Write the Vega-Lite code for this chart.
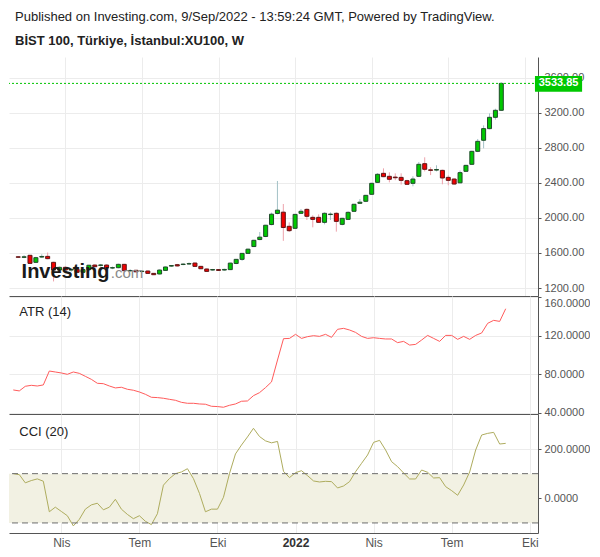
{
  "$schema": "https://vega.github.io/schema/vega-lite/v6.json",
  "background": "white",
  "padding": {"left": 8, "top": 11, "right": 0, "bottom": 0},
  "title": {
    "text": "Published on Investing.com, 9/Sep/2022 - 13:59:24 GMT, Powered by TradingView.",
    "subtitle": "BİST 100, Türkiye, İstanbul:XU100, W",
    "anchor": "start",
    "frame": "group",
    "dx": 6,
    "offset": 9,
    "font": "Liberation Sans",
    "fontSize": 13,
    "fontWeight": "normal",
    "color": "#222222",
    "subtitleFont": "Liberation Sans",
    "subtitleFontSize": 13,
    "subtitleFontWeight": "bold",
    "subtitleColor": "#222222",
    "subtitlePadding": 11
  },
  "datasets": {
    "weeks": [
      {"d": "2021-02-08", "o": 1556, "h": 1562, "l": 1545, "c": 1551, "atr": 63.8, "cci": 100},
      {"d": "2021-02-15", "o": 1550, "h": 1575, "l": 1540, "c": 1556, "atr": 62.8, "cci": 96},
      {"d": "2021-02-22", "o": 1573, "h": 1578, "l": 1474, "c": 1481, "atr": 67.6, "cci": 62.7},
      {"d": "2021-03-01", "o": 1493, "h": 1556, "l": 1486, "c": 1546, "atr": 68.6, "cci": 72},
      {"d": "2021-03-08", "o": 1553, "h": 1585, "l": 1545, "c": 1560, "atr": 67.9, "cci": 78.7},
      {"d": "2021-03-15", "o": 1561, "h": 1605, "l": 1528, "c": 1535, "atr": 69.0, "cci": 69.3},
      {"d": "2021-03-22", "o": 1493, "h": 1500, "l": 1275, "c": 1405, "atr": 83.4, "cci": -54.7},
      {"d": "2021-03-29", "o": 1405, "h": 1445, "l": 1380, "c": 1436, "atr": 82.4, "cci": -36},
      {"d": "2021-04-05", "o": 1436, "h": 1450, "l": 1400, "c": 1405, "atr": 81.4, "cci": -53.3},
      {"d": "2021-04-12", "o": 1405, "h": 1425, "l": 1385, "c": 1413, "atr": 80.0, "cci": -70.7},
      {"d": "2021-04-19", "o": 1413, "h": 1420, "l": 1370, "c": 1379, "atr": 82.4, "cci": -112},
      {"d": "2021-04-26", "o": 1379, "h": 1420, "l": 1370, "c": 1410, "atr": 81.0, "cci": -85.3},
      {"d": "2021-05-03", "o": 1410, "h": 1465, "l": 1400, "c": 1460, "atr": 77.9, "cci": -44},
      {"d": "2021-05-10", "o": 1462, "h": 1470, "l": 1438, "c": 1443, "atr": 74.8, "cci": -26.7},
      {"d": "2021-05-17", "o": 1458, "h": 1475, "l": 1445, "c": 1463, "atr": 70.7, "cci": -20},
      {"d": "2021-05-24", "o": 1462, "h": 1470, "l": 1420, "c": 1428, "atr": 70.3, "cci": -46.7},
      {"d": "2021-05-31", "o": 1428, "h": 1445, "l": 1415, "c": 1432, "atr": 67.9, "cci": -36},
      {"d": "2021-06-07", "o": 1432, "h": 1478, "l": 1425, "c": 1470, "atr": 65.9, "cci": -4},
      {"d": "2021-06-14", "o": 1470, "h": 1475, "l": 1390, "c": 1398, "atr": 66.6, "cci": -44},
      {"d": "2021-06-21", "o": 1396, "h": 1415, "l": 1385, "c": 1400, "atr": 64.5, "cci": -65.3},
      {"d": "2021-06-28", "o": 1402, "h": 1408, "l": 1380, "c": 1385, "atr": 63.5, "cci": -82.7},
      {"d": "2021-07-05", "o": 1388, "h": 1405, "l": 1378, "c": 1392, "atr": 61.7, "cci": -70.7},
      {"d": "2021-07-12", "o": 1394, "h": 1398, "l": 1362, "c": 1367, "atr": 59.3, "cci": -93.3},
      {"d": "2021-07-19", "o": 1367, "h": 1370, "l": 1348, "c": 1352, "atr": 56.2, "cci": -106.7},
      {"d": "2021-07-26", "o": 1360, "h": 1412, "l": 1355, "c": 1405, "atr": 55.9, "cci": -62.7},
      {"d": "2021-08-02", "o": 1401, "h": 1445, "l": 1398, "c": 1440, "atr": 55.2, "cci": 53.3},
      {"d": "2021-08-09", "o": 1450, "h": 1462, "l": 1440, "c": 1456, "atr": 54.1, "cci": 80},
      {"d": "2021-08-16", "o": 1466, "h": 1475, "l": 1445, "c": 1452, "atr": 53.1, "cci": 100},
      {"d": "2021-08-23", "o": 1468, "h": 1482, "l": 1460, "c": 1473, "atr": 51.0, "cci": 106.7},
      {"d": "2021-08-30", "o": 1474, "h": 1492, "l": 1465, "c": 1478, "atr": 50.0, "cci": 120},
      {"d": "2021-09-06", "o": 1485, "h": 1490, "l": 1442, "c": 1447, "atr": 50.0, "cci": 80},
      {"d": "2021-09-13", "o": 1447, "h": 1452, "l": 1415, "c": 1420, "atr": 49.3, "cci": 20},
      {"d": "2021-09-20", "o": 1417, "h": 1422, "l": 1385, "c": 1390, "atr": 49.0, "cci": -54.7},
      {"d": "2021-09-27", "o": 1405, "h": 1418, "l": 1398, "c": 1411, "atr": 46.9, "cci": -44},
      {"d": "2021-10-04", "o": 1410, "h": 1416, "l": 1395, "c": 1401, "atr": 46.6, "cci": -44},
      {"d": "2021-10-11", "o": 1405, "h": 1420, "l": 1398, "c": 1412, "atr": 45.9, "cci": 4},
      {"d": "2021-10-18", "o": 1410, "h": 1488, "l": 1405, "c": 1484, "atr": 47.9, "cci": 100},
      {"d": "2021-10-25", "o": 1480, "h": 1530, "l": 1472, "c": 1527, "atr": 49.3, "cci": 180},
      {"d": "2021-11-01", "o": 1527, "h": 1598, "l": 1510, "c": 1595, "atr": 52.1, "cci": 216},
      {"d": "2021-11-08", "o": 1595, "h": 1650, "l": 1590, "c": 1643, "atr": 52.4, "cci": 249},
      {"d": "2021-11-15", "o": 1673, "h": 1750, "l": 1668, "c": 1744, "atr": 57.9, "cci": 284},
      {"d": "2021-11-22", "o": 1753, "h": 1839, "l": 1745, "c": 1780, "atr": 61.0, "cci": 250.7},
      {"d": "2021-11-29", "o": 1788, "h": 1920, "l": 1780, "c": 1916, "atr": 66.2, "cci": 233},
      {"d": "2021-12-06", "o": 1924, "h": 2060, "l": 1915, "c": 2042, "atr": 72.1, "cci": 225},
      {"d": "2021-12-13", "o": 2050, "h": 2421, "l": 2040, "c": 2088, "atr": 94.8, "cci": 230.7},
      {"d": "2021-12-20", "o": 2065, "h": 2158, "l": 1738, "c": 1890, "atr": 116.9, "cci": 109.3},
      {"d": "2021-12-27", "o": 1904, "h": 1949, "l": 1839, "c": 1854, "atr": 117.2, "cci": 84},
      {"d": "2022-01-03", "o": 1881, "h": 2045, "l": 1875, "c": 2040, "atr": 121.4, "cci": 104},
      {"d": "2022-01-10", "o": 2052, "h": 2101, "l": 2045, "c": 2075, "atr": 117.2, "cci": 112},
      {"d": "2022-01-17", "o": 2097, "h": 2109, "l": 1976, "c": 2018, "atr": 119.0, "cci": 91.9},
      {"d": "2022-01-24", "o": 2006, "h": 2029, "l": 1892, "c": 1983, "atr": 120.0, "cci": 70.3},
      {"d": "2022-01-31", "o": 2006, "h": 2040, "l": 1945, "c": 1949, "atr": 119.3, "cci": 66.2},
      {"d": "2022-02-07", "o": 1949, "h": 2063, "l": 1926, "c": 2052, "atr": 121.4, "cci": 68.9},
      {"d": "2022-02-14", "o": 2038, "h": 2063, "l": 1976, "c": 2043, "atr": 118.3, "cci": 67.6},
      {"d": "2022-02-21", "o": 2052, "h": 2063, "l": 1843, "c": 1960, "atr": 126.6, "cci": 41.9},
      {"d": "2022-02-28", "o": 1926, "h": 2000, "l": 1915, "c": 1995, "atr": 127.6, "cci": 50},
      {"d": "2022-03-07", "o": 1983, "h": 2075, "l": 1975, "c": 2063, "atr": 125.9, "cci": 67.6},
      {"d": "2022-03-14", "o": 2075, "h": 2160, "l": 2068, "c": 2155, "atr": 123.4, "cci": 108},
      {"d": "2022-03-21", "o": 2166, "h": 2215, "l": 2160, "c": 2179, "atr": 119.3, "cci": 141.9},
      {"d": "2022-03-28", "o": 2189, "h": 2262, "l": 2180, "c": 2257, "atr": 117.2, "cci": 175.6},
      {"d": "2022-04-04", "o": 2269, "h": 2400, "l": 2262, "c": 2394, "atr": 117.9, "cci": 227},
      {"d": "2022-04-11", "o": 2405, "h": 2510, "l": 2398, "c": 2497, "atr": 117.2, "cci": 235},
      {"d": "2022-04-18", "o": 2508, "h": 2565, "l": 2465, "c": 2470, "atr": 116.6, "cci": 196},
      {"d": "2022-04-25", "o": 2474, "h": 2520, "l": 2405, "c": 2440, "atr": 116.6, "cci": 148.6},
      {"d": "2022-05-02", "o": 2465, "h": 2508, "l": 2430, "c": 2458, "atr": 112.8, "cci": 128.4},
      {"d": "2022-05-09", "o": 2462, "h": 2508, "l": 2380, "c": 2428, "atr": 114.1, "cci": 102.7},
      {"d": "2022-05-16", "o": 2424, "h": 2435, "l": 2375, "c": 2383, "atr": 110.3, "cci": 78.4},
      {"d": "2022-05-23", "o": 2394, "h": 2475, "l": 2360, "c": 2443, "atr": 111.0, "cci": 78.4},
      {"d": "2022-05-30", "o": 2474, "h": 2638, "l": 2465, "c": 2611, "atr": 115.5, "cci": 114.8},
      {"d": "2022-06-06", "o": 2618, "h": 2691, "l": 2530, "c": 2554, "atr": 120.3, "cci": 105.4},
      {"d": "2022-06-13", "o": 2548, "h": 2578, "l": 2488, "c": 2542, "atr": 117.2, "cci": 82.4},
      {"d": "2022-06-20", "o": 2545, "h": 2600, "l": 2530, "c": 2552, "atr": 114.1, "cci": 83.8},
      {"d": "2022-06-27", "o": 2542, "h": 2550, "l": 2383, "c": 2455, "atr": 120.3, "cci": 47.3},
      {"d": "2022-07-04", "o": 2462, "h": 2485, "l": 2372, "c": 2428, "atr": 120.3, "cci": 31.1},
      {"d": "2022-07-11", "o": 2443, "h": 2450, "l": 2380, "c": 2386, "atr": 116.2, "cci": 12.2},
      {"d": "2022-07-18", "o": 2400, "h": 2540, "l": 2395, "c": 2516, "atr": 119.3, "cci": 54},
      {"d": "2022-07-25", "o": 2531, "h": 2605, "l": 2525, "c": 2599, "atr": 116.2, "cci": 106.7},
      {"d": "2022-08-01", "o": 2611, "h": 2765, "l": 2605, "c": 2759, "atr": 120.3, "cci": 195.9},
      {"d": "2022-08-08", "o": 2759, "h": 2900, "l": 2750, "c": 2873, "atr": 122.8, "cci": 256.7},
      {"d": "2022-08-15", "o": 2885, "h": 3055, "l": 2793, "c": 3018, "atr": 132.8, "cci": 263.4},
      {"d": "2022-08-22", "o": 3018, "h": 3192, "l": 3010, "c": 3147, "atr": 135.9, "cci": 267.5},
      {"d": "2022-08-29", "o": 3147, "h": 3245, "l": 3120, "c": 3227, "atr": 134.8, "cci": 220.2},
      {"d": "2022-09-05", "o": 3227, "h": 3545, "l": 3220, "c": 3533.85, "atr": 147.9, "cci": 222.9}
    ]
  },
  "data": {"name": "weeks"},
  "spacing": 0,
  "bounds": "flush",
  "resolve": {"scale": {"x": "independent", "y": "independent"}},
  "vconcat": [
    {
      "width": 529,
      "height": 239,
      "layer": [
        {
          "mark": {"type": "rule", "strokeWidth": 1},
          "encoding": {
            "x": {
              "field": "d",
              "type": "temporal",
              "title": null,
              "scale": {"domain": [{"year": 2021, "month": 2, "date": 3, "utc": true}, {"year": 2022, "month": 10, "date": 12, "hours": 16, "utc": true}], "nice": false},
              "axis": {
                "values": [{"year": 2021, "month": 4, "date": 5, "utc": true}, {"year": 2021, "month": 7, "date": 5, "utc": true}, {"year": 2021, "month": 10, "date": 4, "utc": true}, {"year": 2022, "month": 1, "date": 3, "utc": true}, {"year": 2022, "month": 4, "date": 4, "utc": true}, {"year": 2022, "month": 7, "date": 4, "utc": true}, {"year": 2022, "month": 10, "date": 3, "utc": true}],
                "tickCount": 20,
                "labels": false, "ticks": false, "tickSize": 0, "grid": true, "domain": true, "title": null
              }
            },
            "y": {
              "field": "l",
              "type": "quantitative",
              "title": null,
              "scale": {"domain": [1109, 3835], "nice": false, "zero": false},
              "axis": {"orient": "right", "values": [1200, 1600, 2000, 2400, 2800, 3200, 3600], "tickCount": 20, "format": ".2f", "tickSize": 3, "labelPadding": 3, "grid": true, "title": null}
            },
            "y2": {"field": "h"},
            "color": {"condition": {"test": "datum.c >= datum.o", "value": "#a3c1c6"}, "value": "#eda2ab"}
          }
        },
        {
          "mark": {"type": "bar", "width": 4, "strokeWidth": 1},
          "encoding": {
            "x": {"field": "d", "type": "temporal"},
            "y": {"field": "o", "type": "quantitative"},
            "y2": {"field": "c"},
            "fill": {"condition": {"test": "datum.c >= datum.o", "value": "#00c800"}, "value": "#f00000"},
            "stroke": {"condition": {"test": "datum.c >= datum.o", "value": "#1f4a2a"}, "value": "#5e1414"}
          }
        },
        {
          "data": {"values": [{}]},
          "mark": {"type": "rule", "color": "#00c400", "strokeDash": [2, 2], "strokeWidth": 1},
          "encoding": {"y": {"datum": 3533.85, "type": "quantitative"}}
        },
        {
          "data": {"values": [{}]},
          "mark": {"type": "text", "align": "left", "baseline": "alphabetic", "font": "Liberation Sans", "fontSize": 20, "fontWeight": "bold", "color": "#1a1a1a"},
          "encoding": {
            "x": {"datum": {"year": 2021, "month": 2, "date": 12, "utc": true}, "type": "temporal"},
            "y": {"datum": 1311, "type": "quantitative"},
            "text": {"value": "Investing"}
          }
        },
        {
          "data": {"values": [{}]},
          "mark": {"type": "text", "align": "left", "baseline": "alphabetic", "font": "Liberation Sans", "fontSize": 15, "color": "#8a8a8a"},
          "encoding": {
            "x": {"datum": {"year": 2021, "month": 5, "date": 29, "utc": true}, "type": "temporal"},
            "y": {"datum": 1311, "type": "quantitative"},
            "text": {"value": ".com"}
          }
        },
        {
          "data": {"values": [{}]},
          "mark": {"type": "rect", "color": "#00c800", "clip": false},
          "encoding": {
            "x": {"datum": {"year": 2022, "month": 10, "date": 15, "utc": true}, "type": "temporal"},
            "x2": {"datum": {"year": 2022, "month": 12, "date": 10, "utc": true}},
            "y": {"datum": 3618, "type": "quantitative"},
            "y2": {"datum": 3440}
          }
        },
        {
          "data": {"values": [{}]},
          "mark": {"type": "text", "align": "center", "baseline": "middle", "font": "Liberation Sans", "fontSize": 11, "fontWeight": "bold", "color": "white", "clip": false},
          "encoding": {
            "x": {"datum": {"year": 2022, "month": 11, "date": 12, "utc": true}, "type": "temporal"},
            "y": {"datum": 3533.85, "type": "quantitative"},
            "text": {"value": "3533.85"}
          }
        }
      ]
    },
    {
      "width": 529,
      "height": 118,
      "layer": [
        {
          "mark": {"type": "line", "color": "#ff5b5b", "strokeWidth": 1},
          "encoding": {
            "x": {
              "field": "d",
              "type": "temporal",
              "title": null,
              "scale": {"domain": [{"year": 2021, "month": 2, "date": 3, "utc": true}, {"year": 2022, "month": 10, "date": 12, "hours": 16, "utc": true}], "nice": false},
              "axis": {
                "values": [{"year": 2021, "month": 4, "date": 5, "utc": true}, {"year": 2021, "month": 7, "date": 5, "utc": true}, {"year": 2021, "month": 10, "date": 4, "utc": true}, {"year": 2022, "month": 1, "date": 3, "utc": true}, {"year": 2022, "month": 4, "date": 4, "utc": true}, {"year": 2022, "month": 7, "date": 4, "utc": true}, {"year": 2022, "month": 10, "date": 3, "utc": true}],
                "tickCount": 20,
                "labels": false, "ticks": false, "tickSize": 0, "grid": true, "domain": true, "title": null
              }
            },
            "y": {
              "field": "atr",
              "type": "quantitative",
              "title": null,
              "scale": {"domain": [38.9, 161.1], "nice": false, "zero": false},
              "axis": {
                "orient": "right", "values": [40, 80, 120, 160], "tickCount": 20, "format": ".4f", "tickSize": 3, "labelPadding": 3, "grid": true, "title": null,
                "labelBaseline": {"condition": {"test": "datum.value == 160", "value": "top"}, "value": "middle"}
              }
            }
          }
        },
        {
          "data": {"values": [{}]},
          "mark": {"type": "text", "align": "left", "baseline": "middle", "font": "Liberation Sans", "fontSize": 13, "color": "#222222"},
          "encoding": {
            "x": {"datum": {"year": 2021, "month": 2, "date": 15, "utc": true}, "type": "temporal"},
            "y": {"datum": 144.6, "type": "quantitative"},
            "text": {"value": "ATR (14)"}
          }
        }
      ]
    },
    {
      "width": 529,
      "height": 119,
      "layer": [
        {
          "data": {"values": [{}]},
          "mark": {"type": "rect", "color": "#f2f1e3"},
          "encoding": {
            "y": {"datum": 100, "type": "quantitative"},
            "y2": {"datum": -100}
          }
        },
        {
          "mark": {"type": "line", "color": "#aeac5e", "strokeWidth": 1},
          "encoding": {
            "x": {
              "field": "d",
              "type": "temporal",
              "title": null,
              "scale": {"domain": [{"year": 2021, "month": 2, "date": 3, "utc": true}, {"year": 2022, "month": 10, "date": 12, "hours": 16, "utc": true}], "nice": false},
              "axis": {
                "values": [{"year": 2021, "month": 4, "date": 5, "utc": true}, {"year": 2021, "month": 7, "date": 5, "utc": true}, {"year": 2021, "month": 10, "date": 4, "utc": true}, {"year": 2022, "month": 1, "date": 3, "utc": true}, {"year": 2022, "month": 4, "date": 4, "utc": true}, {"year": 2022, "month": 7, "date": 4, "utc": true}, {"year": 2022, "month": 10, "date": 3, "utc": true}],
                "tickCount": 20,
                "labelExpr": "utcmonth(datum.value) == 0 ? '' + utcyear(datum.value) : ['Oca','Şub','Mar','Nis','May','Haz','Tem','Ağu','Eyl','Eki','Kas','Ara'][utcmonth(datum.value)]",
                "labelFontWeight": {"condition": {"test": "utcmonth(datum.value) == 0", "value": "bold"}, "value": "normal"},
                "labelColor": {"condition": {"test": "utcmonth(datum.value) == 0", "value": "#333333"}, "value": "#555555"},
                "labelFontSize": 12,
                "ticks": false, "tickSize": 0, "labelPadding": 4, "grid": true, "domain": true, "title": null
              }
            },
            "y": {
              "field": "cci",
              "type": "quantitative",
              "title": null,
              "scale": {"domain": [-140.8, 342], "nice": false, "zero": false},
              "axis": {"orient": "right", "values": [0, 200], "tickCount": 20, "format": ".4f", "tickSize": 3, "labelPadding": 3, "grid": true, "title": null}
            }
          }
        },
        {
          "data": {"values": [{}]},
          "mark": {"type": "rule", "color": "#6e6e6e", "strokeDash": [6, 4], "strokeWidth": 1},
          "encoding": {"y": {"datum": 100, "type": "quantitative"}}
        },
        {
          "data": {"values": [{}]},
          "mark": {"type": "rule", "color": "#6e6e6e", "strokeDash": [6, 4], "strokeWidth": 1},
          "encoding": {"y": {"datum": -100, "type": "quantitative"}}
        },
        {
          "data": {"values": [{}]},
          "mark": {"type": "text", "align": "left", "baseline": "middle", "font": "Liberation Sans", "fontSize": 13, "color": "#222222"},
          "encoding": {
            "x": {"datum": {"year": 2021, "month": 2, "date": 15, "utc": true}, "type": "temporal"},
            "y": {"datum": 270, "type": "quantitative"},
            "text": {"value": "CCI (20)"}
          }
        }
      ]
    }
  ],
  "config": {
    "view": {"stroke": null},
    "axis": {
      "labelFont": "Liberation Sans",
      "labelFontSize": 11,
      "labelColor": "#555555",
      "gridColor": "#ececec",
      "gridWidth": 1,
      "domainColor": "#555555",
      "domainWidth": 1,
      "tickColor": "#555555",
      "labelOverlap": false,
      "labelFlush": false,
      "labelBound": false
    }
  }
}
